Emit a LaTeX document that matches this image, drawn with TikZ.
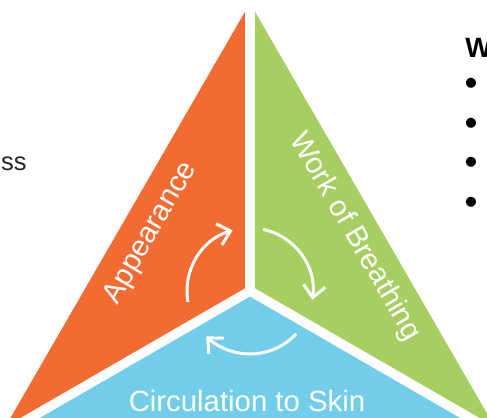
\documentclass[tikz,border=0pt]{standalone}
\usepackage{fontspec}
\setmainfont{Liberation Sans}
\usetikzlibrary{arrows.meta}
\definecolor{apporange}{HTML}{F26B33}
\definecolor{wobgreen}{HTML}{A6CE61}
\definecolor{circblue}{HTML}{71CDE9}

\begin{document}
\begin{tikzpicture}[x=0.02cm,y=0.02cm,>={Straight Barb[length=6.8pt,width=12.5pt]},
        bigtext/.style={text=white, inner sep=0pt, font=\fontsize{16.7}{20}\selectfont},
        cycarrow/.style={draw=white, line width=1.7pt, ->},
        divider/.style={draw=white, line width=5.4pt}]
        \useasboundingbox (0,0) rectangle (487,418);
        \clip (0,0) rectangle (487,418);

        \coordinate (O) at (250,127);
        \coordinate (top) at ([shift={(90:288)}]O);
        \coordinate (bl) at ([shift={(210:288)}]O);
        \coordinate (br) at ([shift={(330:288)}]O);

        \fill[apporange] (top) -- (O) -- (bl) -- cycle;
        \fill[wobgreen] (top) -- (O) -- (br) -- cycle;
        \fill[circblue] (O) -- (bl) -- (br) -- cycle;
        \draw[divider] (O) -- (top);
        \draw[divider] (O) -- (bl);
        \draw[divider] (O) -- (br);

        \node (appear) [bigtext, rotate=60] at (151,185) {Appearance};
        \node (breath) [bigtext, rotate=-60] at (355,181) {Work of Breathing};
        \node (circ) [bigtext, anchor=base] at (247,6.3) {Circulation to Skin};

        \coordinate (a1) at ([shift={(190:63)}]O);
        \coordinate (a2) at ([shift={(78:63)}]O);
        \coordinate (a3) at ([shift={(-43:63)}]O);
        \draw[cycarrow] (a1) arc[start angle=190, end angle=106, radius=63];
        \draw[cycarrow] (a2) arc[start angle=78, end angle=-8, radius=63];
        \draw[cycarrow] (a3) arc[start angle=-43, end angle=-134, radius=63];

        \node (frag) [anchor=base east, inner sep=0pt, text=black!85, font=\fontsize{14.5}{17}\selectfont] at (27,247) {ss};
        \node (whead) [anchor=base west, inner sep=0pt, font=\bfseries\fontsize{15.9}{19}\selectfont] at (465,360) {W};
        \foreach \y [count=\i] in {331,291,252,212}
            \node (dot\i) [inner sep=0pt, font=\fontsize{21}{24}\selectfont] at (471,\y) {•};
    \end{tikzpicture}
\end{document}
